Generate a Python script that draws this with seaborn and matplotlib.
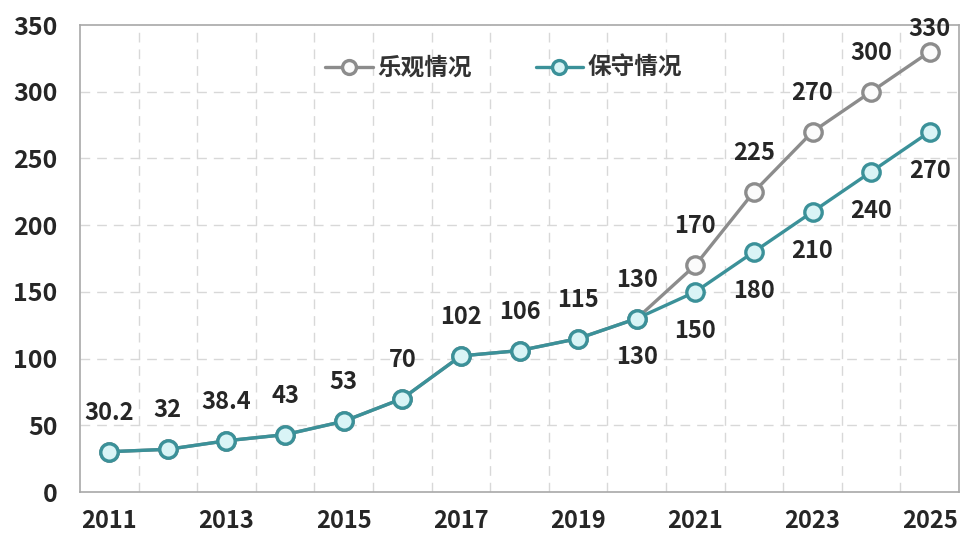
import matplotlib
matplotlib.use("Agg")
import matplotlib.pyplot as plt
import seaborn as sns
import pandas as pd
import numpy as np

years = list(range(2011, 2026))
optimistic = [30.2, 32, 38.4, 43, 53, 70, 102, 106, 115, 130, 170, 225, 270, 300, 330]
conservative = [30.2, 32, 38.4, 43, 53, 70, 102, 106, 115, 130, 150, 180, 210, 240, 270]
series_names = ["乐观情况", "保守情况"]
yticks = [0, 50, 100, 150, 200, 250, 300, 350]
xtick_labels = ["2011", "2013", "2015", "2017", "2019", "2021", "2023", "2025"]

sns.set_theme(style="white")
plt.rcParams['font.family'] = ['Noto Sans CJK SC', 'DejaVu Sans']

fig = plt.figure(figsize=(9.61, 5.38), dpi=100)
ax = fig.add_axes([0.0832, 0.0855, 0.9148, 0.868])

idx = np.arange(len(years))
gray = "#8c8c8c"
teal = "#3b9199"
txt = "#262626"
FS = 17

df_opt = pd.DataFrame({"i": idx, "v": optimistic})
df_con = pd.DataFrame({"i": idx, "v": conservative})

sns.lineplot(data=df_opt, x="i", y="v", ax=ax, color=gray, lw=2.4, marker="o",
             markersize=12.5, markerfacecolor="#fbfbfb", markeredgecolor=gray,
             markeredgewidth=2.4, label=series_names[0], zorder=3)
sns.lineplot(data=df_con, x="i", y="v", ax=ax, color=teal, lw=2.4, marker="o",
             markersize=12.5, markerfacecolor="#d9f4f6", markeredgecolor=teal,
             markeredgewidth=2.4, label=series_names[1], zorder=4)

ax.set_xlim(-0.5, len(years) - 0.5)
ax.set_ylim(0, 350)
ax.set_yticks(yticks)
ax.set_yticklabels([str(t) for t in yticks])
ax.set_xticks(idx[::2])
ax.set_xticklabels(xtick_labels)
ax.set_xlabel("")
ax.set_ylabel("")

ax.tick_params(axis="both", which="both", length=0)
ax.tick_params(axis="y", pad=16, labelsize=18, labelcolor=txt)
ax.tick_params(axis="x", pad=12, labelsize=FS, labelcolor=txt)
for lab in ax.get_xticklabels() + ax.get_yticklabels():
    lab.set_fontweight("bold")

ax.grid(False)
for y in yticks[1:-1]:
    ax.axhline(y, color="#d8d8d8", lw=1.0, ls=(0, (7, 5)), zorder=1)
for x in np.arange(0.5, len(years) - 1, 1.0):
    ax.axvline(x, color="#d8d8d8", lw=1.0, ls=(0, (7, 5)), zorder=1)

for s in ax.spines.values():
    s.set_visible(True)
    s.set_color("#a8a8a8")
    s.set_linewidth(1.2)

def fmt(v):
    return str(int(v)) if float(v).is_integer() else str(v)

OFF = 28
# shared labels (2011-2020) above
for i in range(10):
    ax.annotate(fmt(conservative[i]), (i, conservative[i]), xytext=(0, OFF),
                textcoords="offset points", ha="center", va="center",
                fontsize=FS, fontweight="bold", color=txt)
# 2020 label below as well
ax.annotate(fmt(conservative[9]), (9, conservative[9]), xytext=(0, -OFF),
            textcoords="offset points", ha="center", va="center",
            fontsize=FS, fontweight="bold", color=txt)
for i in range(10, len(years)):
    up = OFF if i < len(years) - 1 else 16
    ax.annotate(fmt(optimistic[i]), (i, optimistic[i]), xytext=(0, up),
                textcoords="offset points", ha="center", va="center",
                fontsize=FS, fontweight="bold", color=txt, annotation_clip=False)
    ax.annotate(fmt(conservative[i]), (i, conservative[i]), xytext=(0, -OFF),
                textcoords="offset points", ha="center", va="center",
                fontsize=FS, fontweight="bold", color=txt)

leg = ax.legend(loc="center", bbox_to_anchor=(0.482, 0.908), ncol=2,
                frameon=False, fontsize=FS, handlelength=2.0, columnspacing=2.7,
                handletextpad=0.2, markerscale=0.8)
for t in leg.get_texts():
    t.set_fontweight("bold")
    t.set_color("#333333")

fig.savefig("out.png", dpi=100)
